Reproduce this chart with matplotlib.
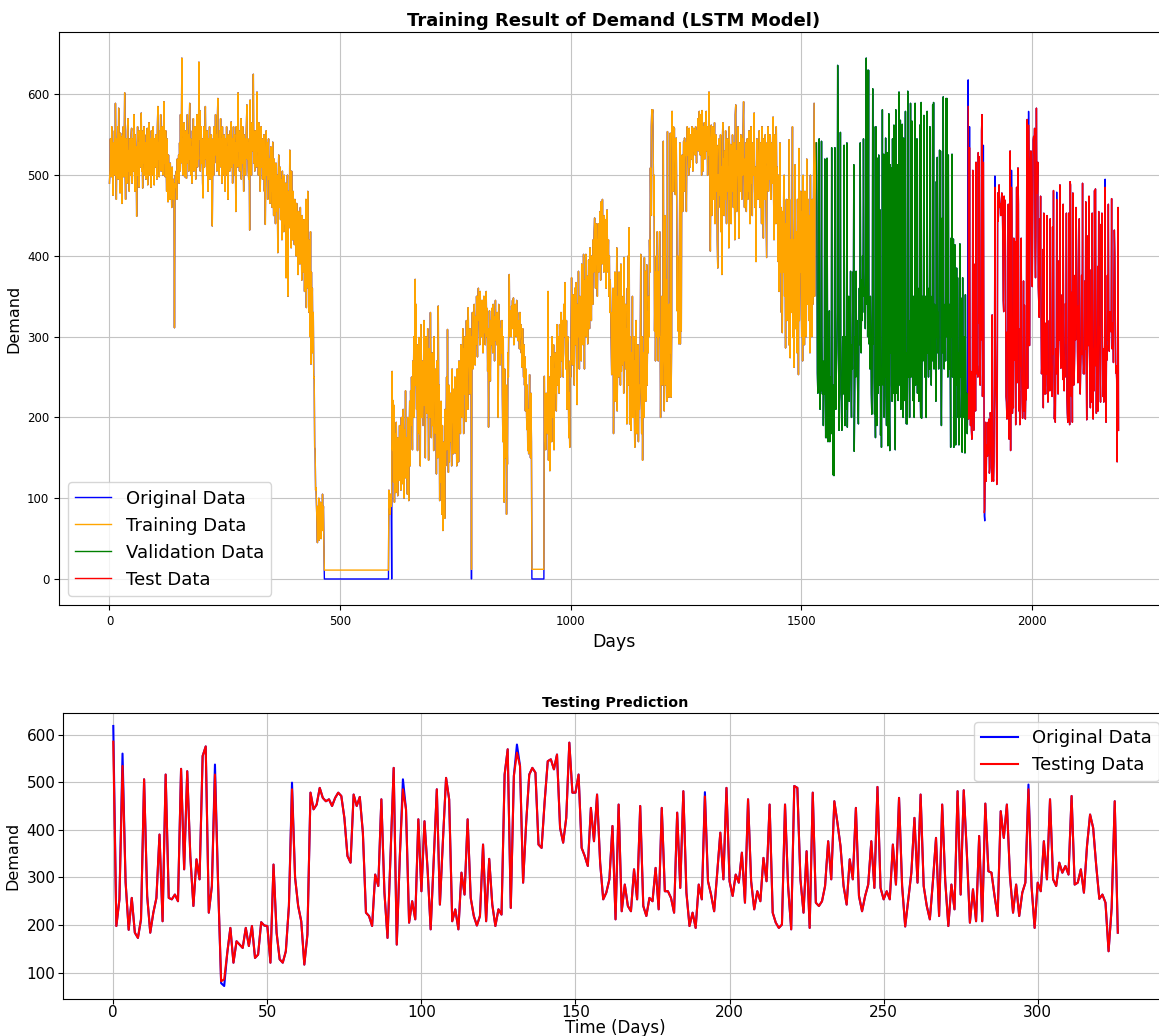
import numpy as np
import matplotlib
matplotlib.use('Agg')
import matplotlib.pyplot as plt

# ---- data (daily demand) ----
# training part, days 0-465
train_a = [
    490, 505, 545, 520, 498, 560, 512, 530, 475, 540,
    518, 555, 500, 589, 530, 470, 545, 512, 560, 495,
    583, 520, 540, 478, 552, 505, 530, 465, 548, 515,
    560, 498, 535, 602, 510, 470, 545, 525, 490, 555,
    570, 505, 530, 480, 545, 515, 500, 550, 558, 490,
    520, 545, 505, 575, 530, 480, 550, 515, 535, 449,
    525, 560, 500, 540, 485, 555, 520, 510, 545, 577,
    505, 530, 484, 555, 515, 560, 500, 540, 525, 495,
    550, 520, 558, 488, 535, 510, 565, 500, 545, 530,
    485, 555, 520, 540, 500, 560, 515, 488, 545, 530,
    510, 550, 525, 495, 560, 585, 520, 540, 498, 555,
    530, 575, 505, 545, 520, 560, 500, 535, 591, 515,
    540, 498, 555, 520, 480, 545, 510, 467, 525, 495,
    505, 470, 515, 485, 500, 460, 510, 480, 495, 470,
    490, 311, 475, 500, 485, 505, 470, 520, 495, 510,
    525, 490, 540, 505, 575, 515, 550, 645, 530, 500,
    545, 520, 565, 498, 540, 510, 555, 496, 530, 575,
    515, 550, 505, 560, 589, 520, 545, 500, 535, 490,
    555, 525, 570, 505, 540, 515, 560, 495, 545, 530,
    575, 510, 550, 520, 640, 545, 580, 505, 530, 560,
    515, 545, 490, 472, 535, 560, 510, 550, 585, 520,
    540, 500, 555, 525, 480, 545, 515, 560, 495, 530,
    505, 550, 470, 437, 520, 545, 500, 560, 515, 540,
    575, 525, 550, 505, 565, 595, 520, 545, 500, 555,
    530, 570, 510, 545, 490, 560, 520, 535, 500, 550,
    525, 480, 545, 510, 560, 500, 535, 470, 550, 515,
    540, 505, 555, 520, 566, 510, 545, 490, 530, 560,
    515, 550, 500, 540, 455, 560, 525, 545, 510, 602,
    530, 555, 505, 545, 520, 570, 495, 540, 515, 560,
    525, 480, 550, 510, 545, 500, 535, 560, 587, 520,
    545, 505, 495, 540, 432, 593, 520, 550, 500, 565,
    530, 560, 625, 515, 545, 505, 555, 520, 540, 510,
    603, 530, 550, 500, 565, 520, 545, 480, 530, 560,
    510, 545, 495, 535, 505, 550, 480, 525, 439, 520,
    555, 500, 540, 470, 530, 545, 495, 520, 465, 510,
    535, 480, 510, 460, 541, 495, 450, 520, 470, 505,
    440, 515, 485, 455, 500, 404, 490, 525, 460, 480,
    510, 445, 495, 470, 420, 505, 455, 485, 430, 500,
    465, 440, 490, 373, 475, 450, 500, 350, 460, 480,
    435, 531, 445, 470, 410, 505, 455, 420, 480, 440,
    460, 414, 470, 430, 450, 400, 465, 420, 445, 377,
    455, 410, 440, 390, 460, 400, 430, 370, 450, 395,
    425, 380, 445, 356, 420, 390, 470, 336, 410, 380,
    480, 360, 420, 330, 400, 300, 430, 266, 380, 320,
    360, 280, 330, 249, 250, 163, 160, 110, 113, 90,
    70, 45, 90, 55, 100, 48, 80, 62, 95, 50,
    85, 60, 105, 75, 90, 40,
]
zero_run_1 = 140   # days 466-605, demand 0
# days 606-915
train_b = [
    110, 88, 95, 80, 105, 90, 0,
    257, 160, 221, 120, 215, 95, 180,
    140, 107, 194, 130, 165, 103, 175, 150, 122, 190,
    135, 160, 110, 200, 145, 170, 118, 210, 155, 100,
    185, 140, 233, 125, 175, 160, 105, 200, 150, 97,
    175, 220, 140, 233, 190, 250, 215, 160, 270, 230,
    300, 200, 265, 371, 240, 340, 210, 290, 159, 255,
    225, 299, 180, 260, 140, 315, 245, 200, 270, 230,
    190, 254, 320, 215, 280, 150, 300, 240, 265, 205,
    310, 230, 147, 285, 250, 200, 330, 260, 175, 240,
    280, 190, 245, 159, 300, 220, 260, 180, 240, 130,
    270, 210, 150, 338, 200, 240, 97, 180, 120, 220,
    150, 80, 190, 60, 130, 100, 170, 75, 210, 140,
    185, 250, 160, 309, 200, 132, 240, 145, 208, 170,
    230, 180, 140, 260, 195, 235, 155, 215, 175, 250,
    156, 235, 208, 140, 260, 190, 230, 145, 270, 215,
    250, 180, 290, 225, 268, 200, 310, 240, 180, 285,
    229, 300, 260, 195, 320, 268, 245, 210, 336, 270,
    290, 229, 310, 250, 300, 0, 291, 330, 260, 315,
    280, 340, 300, 265, 325, 290, 350, 310, 275, 340,
    360, 320, 332, 290, 356, 310, 335, 300, 345, 314,
    280, 330, 350, 305, 340, 290, 320, 356, 300, 335,
    257, 310, 188, 280, 332, 300, 245, 320, 290, 335,
    310, 280, 340, 300, 325, 270, 315, 345, 295, 320,
    290, 330, 305, 200, 340, 285, 320, 265, 310, 300,
    280, 320, 230, 170, 300, 140, 95, 260, 200, 150,
    240, 80, 190, 142, 280, 250, 330, 377, 300, 320,
    332, 300, 338, 320, 345, 310, 348, 290, 335, 315,
    340, 325, 300, 345, 315, 330, 295, 320, 310, 285,
    330, 300, 315, 280, 295, 262, 310, 270, 250, 290,
    240, 275, 208, 260, 225, 185, 240, 159, 210, 155,
    200, 253, 180, 150, 230, 170,
]
zero_run_2 = 27    # days 916-942, demand 0
# days 943-1532
train_c = [
    251, 171, 200, 160, 230, 190, 215,
    180, 356, 147, 210, 250, 134, 190, 275, 220, 170,
    300, 240, 200, 290, 160, 260, 230, 280, 250, 208,
    315, 260, 240, 300, 270, 230, 315, 290, 250, 330,
    300, 270, 320, 285, 250, 340, 300, 310, 367, 280,
    260, 320, 210, 290, 300, 250, 175, 230, 163, 270,
    250, 310, 373, 300, 265, 352, 280, 330, 240, 360,
    310, 290, 367, 270, 216, 340, 300, 381, 320, 260,
    350, 300, 330, 270, 390, 310, 355, 290, 402, 330,
    260, 370, 320, 402, 300, 345, 375, 291, 330, 395,
    360, 310, 410, 350, 380, 320, 400, 360, 340, 420,
    380, 430, 447, 400, 360, 440, 390, 420, 350, 410,
    440, 380, 430, 400, 455, 370, 467, 420, 390, 470,
    410, 440, 380, 450, 420, 395, 445, 360, 430, 457,
    400, 380, 420, 350, 400, 330, 370, 332, 300, 253,
    330, 280, 360, 180, 300, 250, 380, 220, 340, 300,
    410, 208, 300, 350, 250, 380, 270, 320, 240, 390,
    257, 300, 265, 280, 350, 230, 398, 300, 270, 340,
    260, 310, 192, 360, 280, 400, 240, 435, 192, 300,
    250, 184, 280, 220, 350, 200, 260, 300, 230, 163,
    270, 210, 320, 180, 250, 200, 290, 170, 240, 210,
    230, 290, 402, 250, 180, 300, 147, 240, 280, 200,
    398, 270, 381, 220, 300, 389, 240, 330, 280, 350,
    300, 420, 380, 509, 450, 560, 581, 575, 581, 540,
    450, 500, 307, 380, 270, 330, 400, 300, 430, 360,
    270, 380, 300, 430, 330, 200, 300, 270, 350, 240,
    300, 542, 330, 208, 260, 450, 300, 240, 370, 220,
    554, 260, 300, 225, 340, 280, 552, 380, 225, 300,
    579, 530, 480, 560, 540, 558, 500, 476, 520, 546,
    470, 332, 400, 307, 350, 291, 420, 540, 291, 380,
    307, 517, 525, 455, 500, 542, 480, 546, 525, 540,
    520, 455, 540, 560, 525, 545, 500, 558, 530, 510,
    550, 540, 520, 560, 535, 505, 545, 558, 530, 550,
    525, 560, 545, 515, 555, 540, 570, 530, 560, 579,
    545, 525, 575, 560, 500, 580, 545, 505, 560, 535,
    565, 520, 555, 540, 579, 530, 560, 500, 545, 525,
    603, 540, 480, 406, 520, 562, 450, 510, 560, 470,
    530, 490, 565, 440, 520, 550, 480, 537, 420, 385,
    500, 460, 545, 520, 475, 550, 430, 510, 377, 540,
    565, 490, 520, 450, 530, 470, 555, 500, 440, 525,
    545, 480, 510, 410, 560, 500, 470, 538, 440, 520,
    480, 550, 510, 460, 540, 495, 420, 575, 587, 490,
    455, 530, 500, 560, 470, 422, 540, 510, 480, 550,
    515, 470, 545, 500, 560, 591, 500, 460, 520, 480,
    540, 455, 510, 545, 470, 520, 480, 555, 505, 440,
    530, 560, 490, 515, 450, 540, 500, 520, 577, 480,
    460, 510, 393, 500, 545, 530, 470, 520, 490, 555,
    500, 460, 540, 510, 440, 560, 505, 480, 422, 545,
    510, 470, 550, 500, 450, 398, 540, 515, 560, 480,
    530, 495, 550, 520, 470, 540, 505, 490, 545, 572,
    480, 420, 550, 500, 530, 440, 560, 480, 510, 450,
    393, 500, 356, 430, 540, 380, 460, 330, 420, 305,
    455, 380, 480, 500, 350, 440, 286, 400, 470, 320,
    420, 360, 470, 290, 544, 380, 274, 420, 330, 470,
    390, 560, 299, 420, 262, 380, 460, 513, 310, 430,
    350, 280, 470, 400, 253, 533, 320, 430, 380, 480,
    360, 300, 455, 270, 500, 350, 420, 290, 480, 360,
    430, 300, 520, 400, 340, 470, 380, 320, 450, 280,
    500, 360, 410, 300, 470, 340, 430, 520, 589, 350,
    470, 500, 540,
]
# model output on training days where it differs from the original
train_pred_zero_run_1 = 11
train_pred_zero_run_2 = 12
train_pred_fix = {612: 95, 785: 12}

# validation part
val_orig = [
    540, 460, 255, 230, 300, 240, 545,
    280, 210, 250, 233, 542, 300, 229,
    270, 190, 240, 229, 520, 280, 175,
    250, 175, 521, 300, 170, 240, 210,
    332, 170, 250, 220, 180, 534, 260,
    200, 129, 240, 128, 300, 534, 260,
    210, 250, 280, 330, 636, 554, 291,
    184, 290, 260, 553, 230, 220, 184,
    250, 300, 229, 270, 537, 240, 190,
    260, 300, 210, 540, 188, 250, 280,
    350, 220, 260, 300, 381, 240, 200,
    290, 260, 380, 330, 513, 158, 230,
    300, 250, 381, 280, 320, 250, 210,
    192, 300, 360, 290, 540, 330, 280,
    370, 320, 400, 350, 545, 380, 330,
    360, 310, 400, 645, 340, 630, 300,
    380, 630, 291, 330, 260, 350, 310,
    230, 204, 250, 607, 291, 560, 250,
    204, 240, 175, 560, 260, 190, 521,
    340, 230, 525, 240, 300, 457, 178,
    260, 163, 290, 581, 330, 240, 526,
    200, 300, 250, 546, 228, 190, 528,
    300, 165, 250, 576, 200, 159, 513,
    280, 509, 240, 220, 545, 300, 230,
    562, 260, 192, 160, 581, 300, 230,
    513, 270, 221, 250, 603, 300, 240,
    568, 210, 280, 250, 563, 300, 200,
    546, 260, 221, 300, 579, 240, 192,
    280, 192, 604, 250, 320, 270, 200,
    300, 589, 250, 330, 567, 280, 221,
    350, 260, 200, 300, 589, 240, 280,
    300, 545, 230, 360, 270, 220, 300,
    562, 240, 200, 590, 199, 300, 350,
    270, 330, 574, 300, 250, 350, 290,
    200, 330, 579, 280, 320, 250, 360,
    260, 560, 300, 350, 240, 330, 270,
    587, 300, 590, 260, 340, 280, 300,
    220, 492, 300, 522, 280, 330, 260,
    300, 531, 350, 530, 250, 190, 300,
    447, 280, 597, 350, 260, 300, 340,
    270, 595, 300, 595, 350, 250, 525,
    300, 260, 340, 270, 163, 422, 300,
    526, 250, 340, 421, 163, 300, 414,
    260, 166, 300, 385, 240, 373, 200,
    280, 166, 310, 415, 250, 348, 200,
    230, 157, 373, 260, 200, 300, 250,
    156, 352, 250, 200, 230, 180, 220,
]

# test part (also the lower chart)
test_orig = [
    618, 198, 254, 560, 290, 190, 257, 184, 173, 212,
    506, 261, 184, 226, 257, 390, 208, 516, 257, 254,
    264, 250, 528, 317, 523, 345, 240, 338, 296, 555,
    575, 226, 282, 537, 290, 78, 72, 142, 194, 121,
    166, 159, 152, 194, 156, 198, 131, 138, 206, 199,
    198, 121, 327, 184, 128, 121, 145, 240, 499, 300,
    240, 208, 117, 180, 478, 443, 453, 488, 467, 460,
    464, 450, 467, 478, 471, 425, 345, 331, 474, 450,
    469, 394, 226, 219, 198, 306, 282, 464, 268, 173,
    352, 530, 159, 345, 506, 443, 205, 250, 212, 422,
    271, 418, 317, 191, 338, 485, 243, 380, 509, 464,
    208, 233, 191, 310, 264, 422, 257, 219, 199, 219,
    369, 208, 339, 243, 198, 233, 222, 516, 569, 236,
    513, 579, 534, 289, 415, 516, 530, 520, 369, 362,
    460, 544, 548, 527, 558, 404, 373, 425, 583, 478,
    478, 516, 362, 345, 324, 446, 376, 474, 331, 254,
    268, 296, 408, 212, 453, 229, 285, 240, 229, 317,
    254, 450, 240, 219, 257, 250, 320, 233, 446, 271,
    271, 257, 226, 436, 278, 481, 268, 198, 226, 194,
    285, 254, 479, 292, 264, 229, 310, 394, 296, 488,
    292, 261, 306, 289, 352, 247, 464, 292, 233, 271,
    250, 341, 292, 453, 226, 205, 194, 201, 453, 282,
    191, 492, 488, 296, 226, 355, 194, 478, 247, 240,
    250, 282, 376, 296, 460, 415, 366, 282, 243, 338,
    296, 446, 261, 229, 261, 285, 376, 278, 490, 278,
    254, 271, 254, 369, 285, 467, 282, 197, 254, 310,
    425, 289, 474, 282, 240, 212, 292, 383, 219, 453,
    292, 198, 285, 233, 481, 264, 483, 352, 205, 275,
    208, 387, 208, 455, 313, 310, 261, 219, 439, 383,
    453, 303, 226, 285, 219, 268, 289, 495, 282, 194,
    289, 271, 376, 296, 464, 296, 282, 331, 310, 324,
    306, 471, 285, 289, 317, 268, 366, 432, 404, 324,
    255, 264, 247, 145, 236, 460, 184,
]
# model output on test days where it differs visibly from the original
test_pred_fix = {0: 585, 3: 534, 33: 516, 35: 82, 36: 86, 58: 485,
                 94: 485, 131: 562, 192: 470, 297: 485}

# ---- assemble series ----
orig_train = train_a + [0] * zero_run_1 + train_b + [0] * zero_run_2 + train_c
pred_train = (train_a + [train_pred_zero_run_1] * zero_run_1 + train_b
              + [train_pred_zero_run_2] * zero_run_2 + train_c)
for d, v in train_pred_fix.items():
    pred_train[d] = v

pred_val = list(val_orig)
pred_test = list(test_orig)
for d, v in test_pred_fix.items():
    pred_test[d] = v

n_train = len(orig_train)
n_val = len(val_orig)
n_test = len(test_orig)
original = np.array(orig_train + val_orig + test_orig)
days = np.arange(len(original))
train_days = days[:n_train]
val_days = days[n_train:n_train + n_val]
test_days = days[n_train + n_val:]

# ---- figure ----
plt.rcParams['grid.color'] = '#c4c4c4'
fig = plt.figure(figsize=(11.59, 10.36), dpi=100)

ax1 = fig.add_axes([0.0509, 0.416, 0.9577, 0.5531])
ax1.plot(days, original, color='blue', lw=1, label='Original Data')
ax1.plot(train_days, pred_train, color='orange', lw=1, label='Training Data')
ax1.plot(val_days, pred_val, color='green', lw=1, label='Validation Data')
ax1.plot(test_days, pred_test, color='red', lw=1, label='Test Data')
ax1.set_title('Training Result of Demand (LSTM Model)', fontsize=13, fontweight='bold', pad=4)
ax1.set_xlabel('Days', fontsize=12.5)
ax1.set_ylabel('Demand', fontsize=11.5)
ax1.tick_params(labelsize=8.5)
ax1.set_xticks([0, 500, 1000, 1500, 2000])
ax1.grid(True)
ax1.legend(loc='lower left', fontsize=13)

ax2 = fig.add_axes([0.0544, 0.0357, 0.9534, 0.2761])
t = np.arange(n_test)
ax2.plot(t, test_orig, color='blue', lw=1.5, label='Original Data')
ax2.plot(t, pred_test, color='red', lw=1.5, label='Testing Data')
ax2.set_title('Testing Prediction', fontsize=10.3, fontweight='bold', pad=4)
ax2.set_xlabel('Time (Days)', fontsize=12, labelpad=-1)
ax2.set_ylabel('Demand', fontsize=11.5)
ax2.tick_params(axis='y', labelsize=11, pad=2)
ax2.tick_params(axis='x', labelsize=11, pad=1)
ax2.grid(True)
ax2.legend(loc='upper right', fontsize=13)

fig.savefig('out.png', dpi=100)
